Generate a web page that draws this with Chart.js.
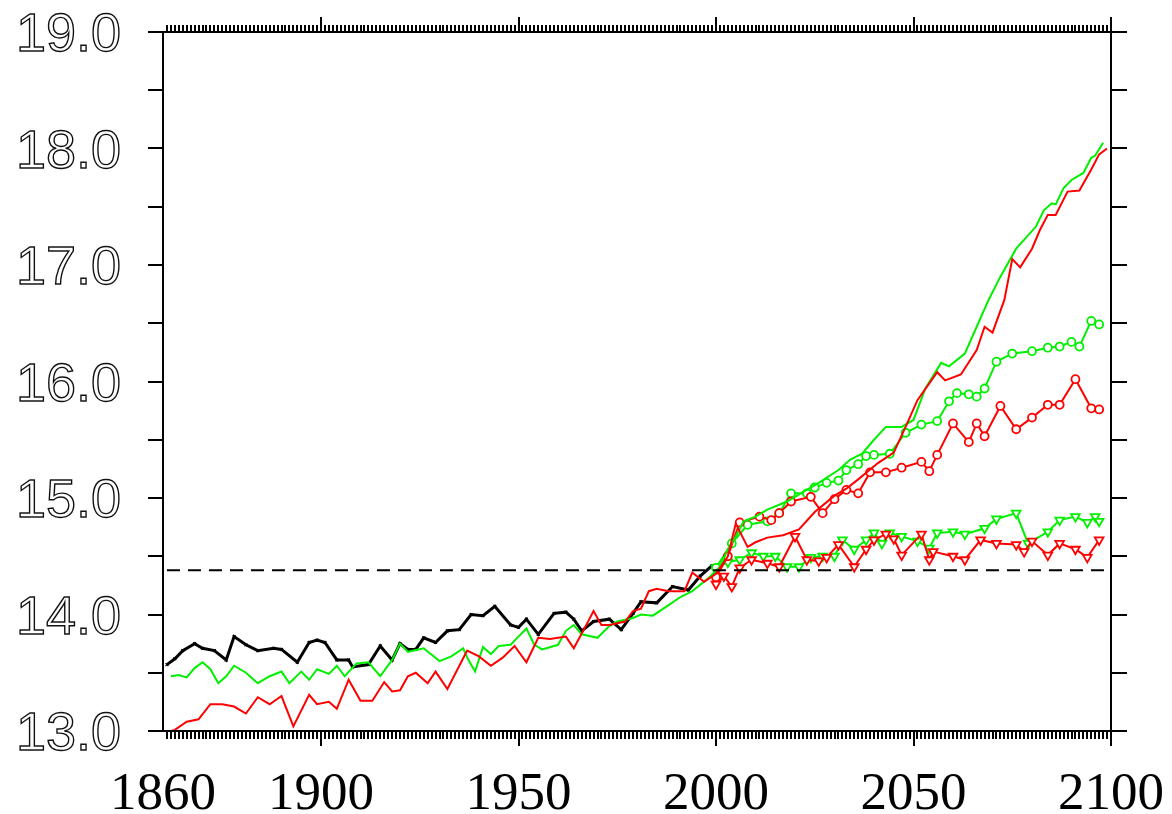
<!DOCTYPE html>
<html lang="en">
<head>
<meta charset="UTF-8">
<title>Global mean temperature 1860-2100</title>
<script src="https://cdn.jsdelivr.net/npm/chart.js"></script>
<style>
  html, body { margin: 0; padding: 0; background: #fff; }
  #wrap { width: 1172px; height: 814px; position: relative; }
</style>
</head>
<body>
<div id="wrap"><canvas id="tempChart"></canvas></div>
<script>
// observed record (black)
const obsYears = [1861,1863,1865,1868,1870,1873,1876,1878,1881,1884,1888,1890,1894,1897,1899,1901,1904,1907,1908,1912,1915,1918,1920,1922,1924,1926,1929,1932,1935,1938,1941,1944,1948,1950,1952,1955,1959,1962,1964,1966,1969,1973,1976,1979,1981,1985,1989,1993,1996,1999];
const obsTemp  = [13.57,13.62,13.69,13.75,13.71,13.69,13.61,13.81,13.74,13.69,13.71,13.70,13.59,13.76,13.78,13.76,13.61,13.61,13.55,13.57,13.73,13.61,13.75,13.70,13.70,13.80,13.76,13.86,13.87,14.00,13.99,14.07,13.91,13.89,13.96,13.83,14.01,14.02,13.96,13.86,13.94,13.96,13.87,14.01,14.11,14.10,14.24,14.21,14.33,14.42];

// full model run, red
const redYears = [1861,1863,1866,1869,1872,1875,1878,1881,1884,1887,1890,1893,1897,1899,1902,1904,1907,1910,1913,1916,1918,1920,1922,1924,1927,1929,1932,1937,1940,1943,1946,1949,1952,1955,1958,1962,1964,1967,1969,1971,1973,1977,1979,1981,1983,1985,1988,1992,1994,1997,2000,2003,2005,2008,2010,2013,2017,2021,2025,2030,2033,2036,2041,2045,2048,2051,2056,2058,2062,2066,2068,2070,2073,2075,2077,2080,2082,2084,2086,2089,2092,2095,2097,2099];
const redTemp  = [12.99,13.01,13.08,13.10,13.23,13.23,13.21,13.15,13.29,13.23,13.30,13.04,13.31,13.23,13.25,13.19,13.44,13.26,13.26,13.42,13.34,13.35,13.47,13.50,13.41,13.51,13.36,13.69,13.64,13.56,13.63,13.73,13.59,13.80,13.79,13.81,13.71,13.90,14.03,13.91,13.91,13.94,14.03,14.05,14.20,14.22,14.20,14.20,14.36,14.28,14.35,14.50,14.78,14.58,14.62,14.66,14.68,14.73,14.88,15.02,15.08,15.16,15.30,15.39,15.61,15.84,16.08,16.01,16.06,16.27,16.47,16.42,16.70,17.05,16.98,17.14,17.30,17.43,17.43,17.63,17.64,17.82,17.95,18.00];

// full model run, green
const greenYears = [1862,1864,1866,1868,1870,1872,1874,1876,1878,1881,1884,1887,1890,1892,1895,1897,1899,1902,1904,1906,1909,1912,1915,1918,1920,1922,1926,1930,1933,1936,1937,1939,1941,1943,1945,1948,1950,1952,1954,1956,1960,1962,1964,1966,1970,1973,1975,1979,1981,1984,1988,1991,1994,1998,2001,2003,2005,2007,2010,2013,2018,2022,2026,2031,2034,2037,2040,2043,2047,2050,2053,2057,2059,2063,2066,2069,2072,2076,2081,2083,2085,2086,2088,2090,2093,2095,2096,2098];
const greenTemp  = [13.47,13.48,13.46,13.54,13.59,13.53,13.41,13.47,13.56,13.50,13.41,13.47,13.51,13.41,13.51,13.44,13.53,13.49,13.56,13.47,13.58,13.59,13.47,13.61,13.75,13.68,13.71,13.60,13.64,13.71,13.63,13.51,13.72,13.66,13.73,13.74,13.81,13.88,13.74,13.70,13.74,13.86,13.91,13.83,13.80,13.90,13.94,13.97,14.00,13.99,14.08,14.15,14.20,14.31,14.41,14.56,14.67,14.80,14.84,14.90,14.97,15.05,15.13,15.24,15.33,15.38,15.50,15.61,15.61,15.67,15.94,16.16,16.13,16.24,16.47,16.70,16.90,17.14,17.33,17.47,17.53,17.52,17.66,17.73,17.79,17.92,17.94,18.05];

// scenario runs from 2000 (circles)
const redCircYears = [2000,2003,2006,2011,2014,2016,2019,2024,2027,2030,2033,2036,2039,2043,2047,2052,2054,2056,2060,2064,2066,2068,2072,2076,2080,2084,2087,2091,2095,2097];
const redCircTemp  = [14.32,14.50,14.79,14.84,14.81,14.87,14.97,15.01,14.87,14.99,15.07,15.04,15.22,15.22,15.26,15.31,15.23,15.37,15.64,15.48,15.64,15.53,15.79,15.59,15.69,15.80,15.80,16.02,15.77,15.76];
const greenCircYears = [2000,2004,2008,2013,2016,2019,2023,2025,2028,2031,2033,2036,2038,2040,2044,2048,2052,2056,2059,2061,2064,2066,2068,2071,2075,2080,2084,2087,2090,2092,2095,2097];
const greenCircTemp  = [14.40,14.61,14.77,14.80,14.87,15.04,15.04,15.09,15.13,15.15,15.24,15.29,15.36,15.37,15.38,15.56,15.63,15.66,15.83,15.90,15.89,15.87,15.94,16.17,16.24,16.26,16.29,16.30,16.34,16.30,16.52,16.49];

// scenario runs from 2000 (triangles)
const redTriYears = [2000,2002,2004,2006,2009,2013,2016,2020,2023,2026,2028,2031,2035,2038,2040,2043,2045,2047,2052,2054,2055,2060,2063,2067,2071,2076,2078,2080,2084,2087,2091,2094,2097];
const redTriTemp  = [14.26,14.33,14.24,14.40,14.47,14.44,14.41,14.67,14.47,14.46,14.49,14.60,14.41,14.56,14.64,14.69,14.65,14.51,14.69,14.47,14.54,14.50,14.47,14.64,14.61,14.60,14.54,14.63,14.51,14.61,14.56,14.49,14.64];
const greenTriYears = [2000,2003,2006,2009,2012,2015,2018,2021,2024,2027,2030,2032,2035,2038,2040,2042,2044,2047,2051,2054,2056,2060,2063,2068,2071,2076,2079,2084,2087,2091,2094,2096,2097];
const greenTriTemp  = [14.40,14.45,14.47,14.53,14.50,14.50,14.41,14.41,14.49,14.50,14.50,14.64,14.56,14.64,14.70,14.61,14.70,14.67,14.63,14.57,14.70,14.71,14.69,14.74,14.82,14.87,14.61,14.71,14.81,14.84,14.79,14.84,14.80];

// reference level (dashed)
const refYears = [1861, 2099];
const refTemp = [14.38, 14.38];

const xTickLabels = [1860, 1900, 1950, 2000, 2050, 2100];
const yTickLabels = [13, 14, 15, 16, 17, 18, 19];

function pts(xs, ys) {
    return xs.map((x, i) => ({ x: x, y: ys[i] }));
}

const RED = '#ff0000';
const GREEN = '#00f000';

// axes, outward ticks and labels drawn like the original plot
const framePlugin = {
    id: 'frame',
    afterDraw(chart) {
        const ctx = chart.ctx;
        const a = chart.chartArea;
        const xs = chart.scales.x;
        const ys = chart.scales.y;
        ctx.save();
        ctx.strokeStyle = '#000';

        // yearly ticks on top and bottom, longer every 50 years
        for (let yr = 1861; yr <= 2100; yr++) {
            const px = Math.round(xs.getPixelForValue(yr));
            const major = yr % 50 === 0;
            ctx.lineWidth = 2;
            ctx.beginPath();
            ctx.moveTo(px, a.top);
            ctx.lineTo(px, a.top - (major ? 15 : 7));
            ctx.moveTo(px, a.bottom);
            ctx.lineTo(px, a.bottom + (major ? 15 : 8));
            ctx.stroke();
        }

        // ticks on left and right every 0.5
        ctx.lineWidth = 2;
        for (let v = 13; v <= 19.001; v += 0.5) {
            const py = Math.round(ys.getPixelForValue(v));
            ctx.beginPath();
            ctx.moveTo(a.left, py);
            ctx.lineTo(a.left - 15, py);
            ctx.moveTo(a.right, py);
            ctx.lineTo(a.right + 16, py);
            ctx.stroke();
        }

        // frame
        ctx.lineWidth = 2;
        ctx.strokeRect(a.left, a.top, a.right - a.left, a.bottom - a.top);

        // y labels, hollow sans
        ctx.font = '54px "Liberation Sans", Arial, sans-serif';
        ctx.textAlign = 'right';
        ctx.textBaseline = 'alphabetic';
        ctx.lineWidth = 1.4;
        ctx.strokeStyle = '#111';
        yTickLabels.forEach(v => {
            const py = ys.getPixelForValue(v);
            ctx.strokeText(v.toFixed(1), 121, py + 19);
        });

        // x labels, serif
        ctx.font = '53px "Liberation Serif", "Times New Roman", serif';
        ctx.textAlign = 'center';
        ctx.fillStyle = '#000';
        xTickLabels.forEach(v => {
            const px = xs.getPixelForValue(v);
            ctx.fillText(String(v), px, 809);
        });
        ctx.restore();
    }
};

const lineDefaults = {
    tension: 0,
    fill: false,
    borderWidth: 2,
    pointRadius: 0
};

function marked(style, color, radius) {
    return {
        pointRadius: radius, pointStyle: style, pointBorderColor: color,
        pointBackgroundColor: '#fff', pointBorderWidth: 1.8,
        pointRotation: style === 'triangle' ? 180 : 0
    };
}

new Chart(document.getElementById('tempChart').getContext('2d'), {
    type: 'line',
    data: {
        datasets: [
            Object.assign({}, lineDefaults, {
                label: 'reference', data: pts(refYears, refTemp),
                borderColor: '#000', borderWidth: 1.8, borderDash: [13, 8]
            }),
            Object.assign({}, lineDefaults, {
                label: 'red run', data: pts(redYears, redTemp), borderColor: RED
            }),
            Object.assign({}, lineDefaults, {
                label: 'green run', data: pts(greenYears, greenTemp), borderColor: GREEN
            }),
            Object.assign({}, lineDefaults, marked('circle', RED, 4), {
                label: 'red circles', data: pts(redCircYears, redCircTemp), borderColor: RED
            }),
            Object.assign({}, lineDefaults, marked('circle', GREEN, 4), {
                label: 'green circles', data: pts(greenCircYears, greenCircTemp), borderColor: GREEN
            }),
            Object.assign({}, lineDefaults, marked('triangle', RED, 5), {
                label: 'red triangles', data: pts(redTriYears, redTriTemp), borderColor: RED
            }),
            Object.assign({}, lineDefaults, marked('triangle', GREEN, 5), {
                label: 'green triangles', data: pts(greenTriYears, greenTriTemp), borderColor: GREEN
            }),
            Object.assign({}, lineDefaults, {
                label: 'observed', data: pts(obsYears, obsTemp), borderColor: '#000',
                borderWidth: 3, pointRadius: 2, pointStyle: 'crossRot',
                pointBorderColor: '#000', pointBorderWidth: 1.2
            })
        ]
    },
    options: {
        responsive: true,
        maintainAspectRatio: false,
        animation: false,
        layout: { padding: { left: 163, right: 61, top: 32, bottom: 83 } },
        plugins: { legend: { display: false }, tooltip: { enabled: false } },
        scales: {
            x: { type: 'linear', min: 1860, max: 2100, display: false },
            y: { type: 'linear', min: 13, max: 19, display: false }
        }
    },
    plugins: [framePlugin]
});
</script>
</body>
</html>
